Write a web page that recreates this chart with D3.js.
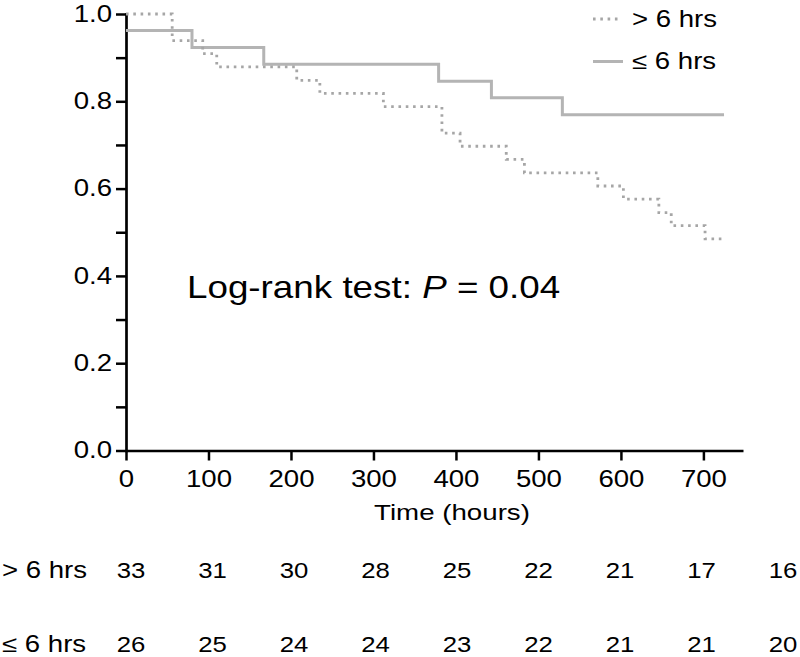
<!DOCTYPE html>
<html>
<head>
<meta charset="utf-8">
<script src="https://cdn.jsdelivr.net/npm/d3@7"></script>
<style>
  html, body { margin: 0; padding: 0; background: #fff; }
  svg { display: block; font-family: "Liberation Sans", Arial, Helvetica, sans-serif; }
</style>
</head>
<body>
<div id="chart"></div>
<script>
// ---- Data ----
const shortTimes = [0, 80, 167, 379, 443, 529, 725];
const shortSurv  = [0.962, 0.923, 0.885, 0.846, 0.808, 0.769, 0.769];

const longTimes = [0, 56, 93, 110, 207, 235, 312, 383, 405, 461, 483, 572, 603, 646, 661, 702, 722];
const longSurv  = [1.0, 0.939, 0.909, 0.879, 0.848, 0.818, 0.788, 0.727, 0.697, 0.667, 0.636, 0.606, 0.576, 0.545, 0.515, 0.485, 0.485];

const xTicks = [0, 100, 200, 300, 400, 500, 600, 700];
const yTicks = [0, 0.1, 0.2, 0.3, 0.4, 0.5, 0.6, 0.7, 0.8, 0.9, 1.0];

const riskTimes = [0, 100, 200, 300, 400, 500, 600, 700, 800];
const riskLong  = [33, 31, 30, 28, 25, 22, 21, 17, 16];
const riskShort = [26, 25, 24, 24, 23, 22, 21, 21, 20];

const seriesNames = ["> 6 hrs", "\u2264 6 hrs"];
const axisTitle = "Time (hours)";

// ---- Chart ----
const W = 800, H = 657;
const svg = d3.select("#chart").append("svg").attr("width", W).attr("height", H);

const x = d3.scaleLinear().domain([0, 748]).range([126, 743]);
const y = d3.scaleLinear().domain([0, 1]).range([450.5, 14]);
// risk table columns (spaced slightly tighter than the time axis in the original)
const xr = d3.scaleLinear().domain([0, 800]).range([131, 783]);

const SX = 1.2; // horizontal text stretch of the original figure

// Y axis
const yAxis = d3.axisLeft(y)
  .tickValues(yTicks)
  .tickSize(10)
  .tickSizeOuter(0)
  .tickFormat(d => (Math.round(d * 10) % 2 === 0 ? d3.format(".1f")(d) : ""));
const gy = svg.append("g").attr("transform", `translate(${x(0)},0)`).call(yAxis);
gy.select(".domain").attr("stroke", "#000").attr("stroke-width", 2.7).attr("stroke-linecap", "square");
gy.selectAll(".tick line").attr("stroke", "#000").attr("stroke-width", 2.5);
gy.selectAll(".tick text")
  .attr("fill", "#000")
  .attr("font-size", 23)
  .attr("font-family", "Liberation Sans, Arial, sans-serif")
  .attr("x", -14 / SX)
  .attr("transform", `scale(${SX},1)`);

// X axis
const xAxis = d3.axisBottom(x).tickValues(xTicks).tickSize(10).tickSizeOuter(0);
const gx = svg.append("g").attr("transform", `translate(0,${y(0)})`).call(xAxis);
gx.select(".domain").attr("stroke", "#000").attr("stroke-width", 2.7);
gx.selectAll(".tick line").attr("stroke", "#000").attr("stroke-width", 2.5);
gx.selectAll(".tick text")
  .attr("fill", "#000")
  .attr("font-size", 23)
  .attr("font-family", "Liberation Sans, Arial, sans-serif")
  .attr("y", 36.5)
  .attr("dy", 0)
  .attr("transform", `scale(${SX},1)`);

// Curves
const line = d3.line().x(d => x(d[0])).y(d => y(d[1])).curve(d3.curveStepAfter);
const shortData = shortTimes.map((t, i) => [t, shortSurv[i]]);
const longData = longTimes.map((t, i) => [t, longSurv[i]]);

svg.append("path").datum(shortData)
  .attr("d", line).attr("fill", "none")
  .attr("stroke", "#b4b4b4").attr("stroke-width", 3);

svg.append("path").datum(longData)
  .attr("d", line).attr("fill", "none")
  .attr("stroke", "#a6a6a6").attr("stroke-width", 2.8)
  .attr("stroke-dasharray", "2.6,4.7");

// helper for stretched text
function stretchedText(px, py, str, size, sx, anchor) {
  return svg.append("text")
    .attr("transform", `translate(${px},${py}) scale(${sx},1)`)
    .attr("font-size", size)
    .attr("text-anchor", anchor || "start")
    .attr("fill", "#000")
    .text(str);
}

// Legend
svg.append("line").attr("x1", 593).attr("x2", 620).attr("y1", 19).attr("y2", 19)
  .attr("stroke", "#a6a6a6").attr("stroke-width", 2.8).attr("stroke-dasharray", "2.6,4.7");
stretchedText(632, 27, seriesNames[0], 23, SX);
svg.append("line").attr("x1", 593).attr("x2", 623).attr("y1", 61.5).attr("y2", 61.5)
  .attr("stroke", "#b4b4b4").attr("stroke-width", 3);
stretchedText(632, 69, seriesNames[1], 23, SX);

// Annotation
const ann = svg.append("text")
  .attr("transform", `translate(187,298) scale(1.15,1)`)
  .attr("font-size", 32).attr("fill", "#000");
ann.append("tspan").text("Log-rank test: ");
ann.append("tspan").attr("font-style", "italic").text("P");
ann.append("tspan").text(" = 0.04");

// Axis title
stretchedText(452, 520, axisTitle, 22.5, 1.23, "middle");

// Risk table
stretchedText(2, 578, seriesNames[0], 23, 1.2);
stretchedText(2, 651.5, seriesNames[1], 23, 1.2);
riskTimes.forEach((t, i) => {
  stretchedText(xr(t), 578, riskLong[i], 23, 1.12, "middle");
  stretchedText(xr(t), 651.5, riskShort[i], 23, 1.12, "middle");
});
</script>
</body>
</html>
